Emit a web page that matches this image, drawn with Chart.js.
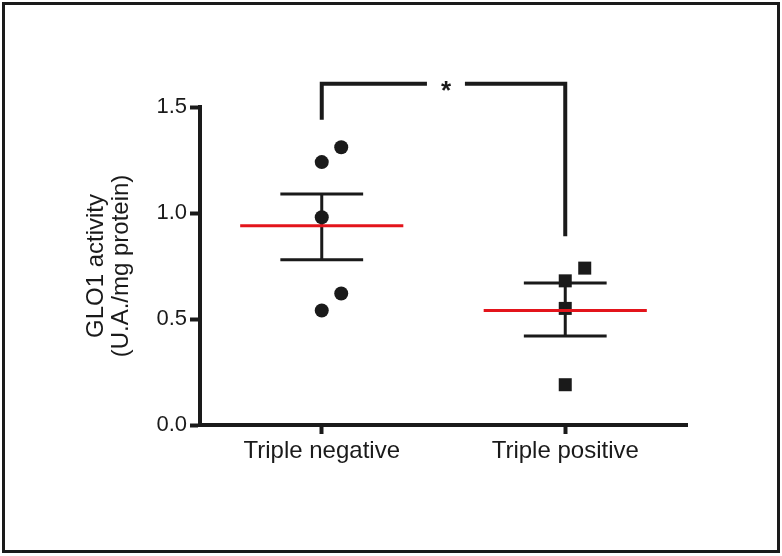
<!DOCTYPE html>
<html>
<head>
<meta charset="utf-8">
<script src="https://cdn.jsdelivr.net/npm/chart.js@4"></script>
<style>
  body { margin: 0; background: #fff; }
  #wrap { position: relative; width: 782px; height: 556px; }
  #glo1Chart { position: absolute; left: 0; top: 0; }
  #frame { position: absolute; left: 2px; top: 2px; width: 778px; height: 551px;
           box-sizing: border-box; border: 3px solid #1a1a1a; pointer-events: none; }
</style>
</head>
<body>
<div id="wrap">
  <canvas id="glo1Chart" width="782" height="556"></canvas>
  <div id="frame"></div>
</div>
<script>
// values
const categories = ['Triple negative', 'Triple positive'];
const negValues = [1.24, 1.31, 0.98, 0.62, 0.54];
const negOffsets = [0, 0.08, 0, 0.08, 0];
const posValues = [0.74, 0.68, 0.55, 0.19];
const posOffsets = [0.08, 0, 0, 0];
const means = [0.94, 0.54];
const semHigh = [1.09, 0.67];
const semLow = [0.78, 0.42];
const yTicks = [0, 0.5, 1.0, 1.5];
const bracketTop = 1.61;
const bracketEnds = [1.44, 0.89];
const sigLabel = '*';

const FONT = "'Liberation Sans', Arial, sans-serif";
const INK = '#1a1a1a';
const starX = 0.51, starGap = 0.078;

function meanLine(i) {
    return {
        type: 'line', showLine: true, order: 0,
        data: [{x: i - 0.335, y: means[i]}, {x: i + 0.335, y: means[i]}],
        borderColor: '#e3141b', borderWidth: 3, pointRadius: 0, borderCapStyle: 'butt'
    };
}

function semBars(i) {
    return {
        type: 'line', showLine: true, order: 1, spanGaps: false,
        data: [
            {x: i - 0.17, y: semHigh[i]}, {x: i + 0.17, y: semHigh[i]}, {x: i, y: null},
            {x: i, y: semHigh[i]}, {x: i, y: semLow[i]}, {x: i, y: null},
            {x: i - 0.17, y: semLow[i]}, {x: i + 0.17, y: semLow[i]}
        ],
        borderColor: INK, borderWidth: 3, pointRadius: 0, borderCapStyle: 'butt'
    };
}

const bracketStyle = {
    type: 'line', showLine: true, order: 1, clip: false,
    borderColor: INK, borderWidth: 4, pointRadius: 0,
    borderCapStyle: 'butt', borderJoinStyle: 'miter'
};

const datasets = [
    meanLine(0), meanLine(1),
    semBars(0), semBars(1),
    {
        label: categories[0], order: 2,
        data: negValues.map((v, k) => ({x: 0 + negOffsets[k], y: v})),
        pointStyle: 'circle', pointRadius: 7, pointBorderWidth: 0,
        backgroundColor: INK, borderColor: INK
    },
    {
        label: categories[1], order: 2,
        data: posValues.map((v, k) => ({x: 1 + posOffsets[k], y: v})),
        pointStyle: 'rect', pointRadius: 9.2, pointBorderWidth: 0,
        backgroundColor: INK, borderColor: INK
    },
    Object.assign({
        data: [{x: 0, y: bracketEnds[0]}, {x: 0, y: bracketTop}, {x: starX - starGap, y: bracketTop}]
    }, bracketStyle),
    Object.assign({
        data: [{x: starX + starGap, y: bracketTop}, {x: 1, y: bracketTop}, {x: 1, y: bracketEnds[1]}]
    }, bracketStyle)
];

const starPlugin = {
    id: 'star',
    afterDatasetsDraw(chart) {
        const ctx = chart.ctx;
        const px = chart.scales.x.getPixelForValue(starX);
        const py = chart.scales.y.getPixelForValue(bracketTop);
        ctx.save();
        ctx.fillStyle = INK;
        ctx.font = 'bold 26px ' + FONT;
        ctx.textAlign = 'center';
        ctx.textBaseline = 'alphabetic';
        ctx.fillText(sigLabel, px, py + 0.57 * 26);
        ctx.restore();
    }
};

new Chart(document.getElementById('glo1Chart'), {
    type: 'scatter',
    data: { datasets: datasets },
    plugins: [starPlugin],
    options: {
        responsive: false,
        animation: false,
        devicePixelRatio: 1,
        layout: { padding: { left: 0, top: 107, right: 95, bottom: 0 } },
        plugins: { legend: { display: false }, tooltip: { enabled: false } },
        scales: {
            x: {
                type: 'linear', min: -0.5, max: 1.5,
                afterBuildTicks: s => { s.ticks = categories.map((c, i) => ({value: i})); },
                afterFit: s => { s.height = 131; },
                ticks: {
                    callback: v => categories[v],
                    color: '#1a1a1a', padding: 3,
                    font: { family: FONT, size: 24 }
                },
                grid: { drawOnChartArea: false, drawTicks: true, tickLength: 9, tickWidth: 4, color: INK },
                border: { display: true, color: INK, width: 4 }
            },
            y: {
                min: 0, max: 1.5,
                afterBuildTicks: s => { s.ticks = yTicks.map(v => ({value: v})); },
                afterFit: s => { s.width = 200; },
                ticks: {
                    callback: v => v.toFixed(1),
                    color: '#1a1a1a', padding: 3,
                    font: { family: FONT, size: 22 }
                },
                grid: { drawOnChartArea: false, drawTicks: true, tickLength: 10, tickWidth: 4, color: INK },
                border: { display: true, color: INK, width: 4 },
                title: {
                    display: true,
                    text: ['GLO1 activity', '(U.A./mg protein)'],
                    color: '#1a1a1a',
                    padding: { top: 84, bottom: 0 },
                    font: { family: FONT, size: 24, lineHeight: 1.05 }
                }
            }
        }
    }
});
</script>
</body>
</html>
